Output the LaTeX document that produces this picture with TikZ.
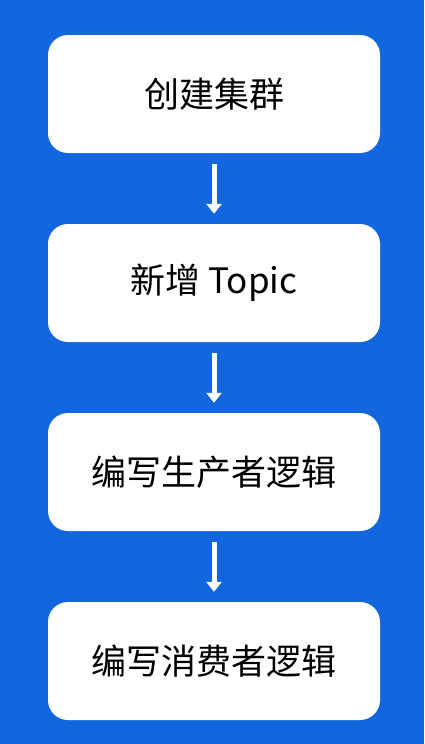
\documentclass[tikz,border=0pt]{standalone}
\usepackage{fontspec}
\setmainfont{Noto Sans CJK SC}
\usetikzlibrary{positioning,arrows.meta}
\definecolor{bgblue}{RGB}{18,102,222}

\begin{document}
\begin{tikzpicture}[node distance = 189pt, on grid,
    stepbox/.style = {fill = white, rounded corners = 20pt, minimum width = 332pt,
      minimum height = 118pt, font = \fontsize{35pt}{42pt}\selectfont},
    flow/.style = {white, line width = 5pt, -{Triangle[width = 15pt, length = 10pt]},
      shorten <= 11pt, shorten >= 10pt}]
   \fill[bgblue] (0,0) rectangle (424pt,-744pt);
   \useasboundingbox (0,0) rectangle (424pt,-744pt);
   \node[stepbox] (s_0) at (214pt,-94pt) {创建集群};
   \node[stepbox] (s_1) [below = of s_0] {新增 Topic};
   \node[stepbox] (s_2) [below = of s_1] {编写生产者逻辑};
   \node[stepbox] (s_3) [below = of s_2] {编写消费者逻辑};
   \path[flow]
    (s_0) edge (s_1)
    (s_1) edge (s_2)
    (s_2) edge (s_3);
\end{tikzpicture}
\end{document}
